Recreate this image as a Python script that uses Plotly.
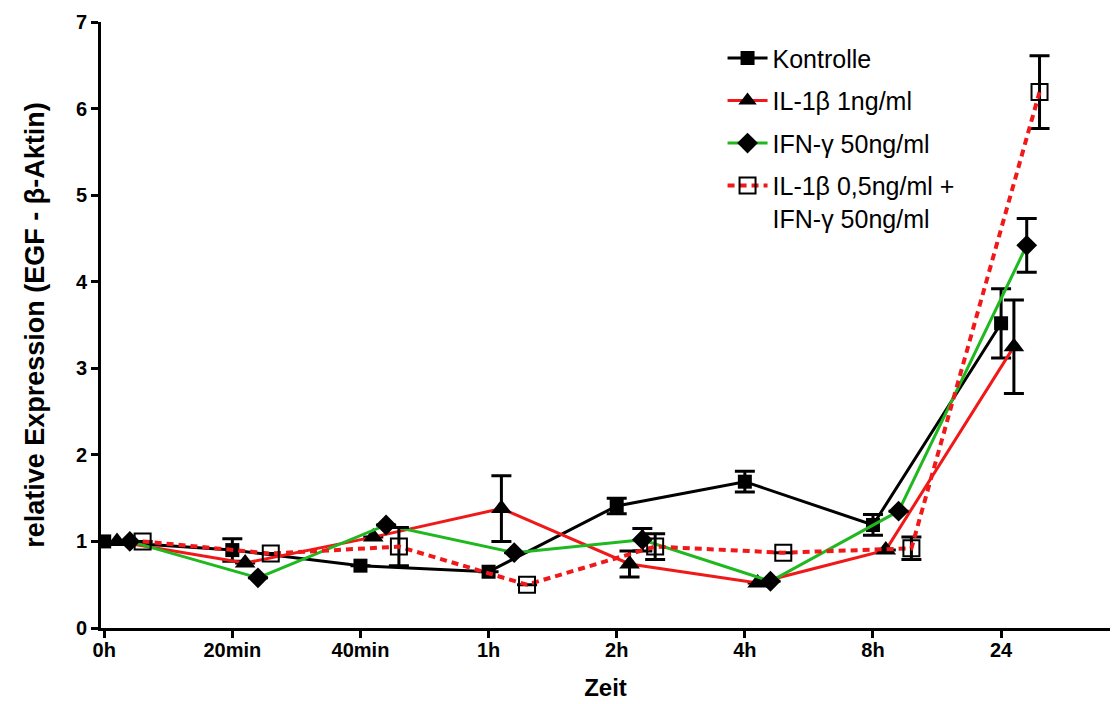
import plotly.graph_objects as go

categories = ["0h", "20min", "40min", "1h", "2h", "4h", "8h", "24"]

kontrolle = [1.00, 0.90, 0.72, 0.65, 1.41, 1.69, 1.19, 3.52]
kontrolle_err = [0, 0.13, 0, 0, 0.09, 0.12, 0.12, 0.40]

il1b = [1.00, 0.75, 1.05, 1.38, 0.74, 0.52, 0.90, 3.25]
il1b_err = [0, 0, 0, 0.38, 0.15, 0, 0, 0.54]

ifng = [1.00, 0.58, 1.19, 0.87, 1.02, 0.54, 1.35, 4.42]
ifng_err = [0, 0, 0, 0, 0.13, 0, 0, 0.31]

combo = [1.00, 0.86, 0.94, 0.50, 0.94, 0.87, 0.92, 6.19]
combo_err = [0, 0, 0.22, 0, 0.15, 0, 0.13, 0.42]

series = [
    ("Kontrolle", kontrolle, kontrolle_err, dict(color="black", width=3), dict(symbol="square", size=14, color="black"), 0.0),
    ("IL-1\u03b2 1ng/ml", il1b, il1b_err, dict(color="#f01818", width=3), dict(symbol="triangle-up", size=18, color="black"), 0.1),
    ("IFN-\u03b3 50ng/ml", ifng, ifng_err, dict(color="#1fb81f", width=3), dict(symbol="diamond", size=16, color="black"), 0.2),
    ("IL-1\u03b2 0,5ng/ml +<br>IFN-\u03b3 50ng/ml", combo, combo_err, dict(color="#f01818", width=4, dash="7px,5px"),
     dict(symbol="square-open", size=16, color="black", line=dict(width=2, color="black")), 0.3),
]

fig = go.Figure()
for k, (name, vals, errs, line, marker, off) in enumerate(series):
    fig.add_trace(go.Scatter(
        x=[i + off for i in range(len(categories))],
        y=vals,
        mode="lines+markers",
        name=name,
        legendgroup=f"g{k}",
        line=line,
        marker=marker,
        error_y=dict(type="data", array=errs, visible=True, color="black", thickness=3, width=10),
    ))

FONT = "Liberation Sans, Arial"
axis_font = dict(family=FONT, size=20, color="black", weight="bold")
fig.update_layout(
    width=1119, height=704,
    margin=dict(l=93, r=17, t=14, b=84),
    plot_bgcolor="white", paper_bgcolor="white",
    font=dict(family=FONT, color="black"),
    legend=dict(x=0.616, y=0.978, xanchor="left", yanchor="top", valign="top", itemwidth=40,
                font=dict(family=FONT, size=25, color="black"),
                bgcolor="rgba(0,0,0,0)", tracegroupgap=7),
    xaxis=dict(range=[-0.025, 7.85], tickvals=list(range(len(categories))), ticktext=categories,
               showline=True, linecolor="black", linewidth=3, ticks="outside", ticklen=7,
               tickwidth=3, tickcolor="black", showgrid=False, zeroline=False, tickfont=axis_font,
               automargin=False, ticklabelstandoff=-5,
               title=dict(text="Zeit", font=dict(family=FONT, size=24, color="black", weight="bold"), standoff=20)),
    yaxis=dict(range=[0, 7], dtick=1, showline=True, linecolor="black", linewidth=3, ticks="outside",
               ticklen=7, tickwidth=3, tickcolor="black", showgrid=False, zeroline=False, tickfont=axis_font,
               automargin=False,
               title=dict(text="relative Expression (EGF - \u03b2-Aktin)",
                          font=dict(family=FONT, size=27, color="black", weight="bold"), standoff=24)),
)

fig.write_html("out.html")
